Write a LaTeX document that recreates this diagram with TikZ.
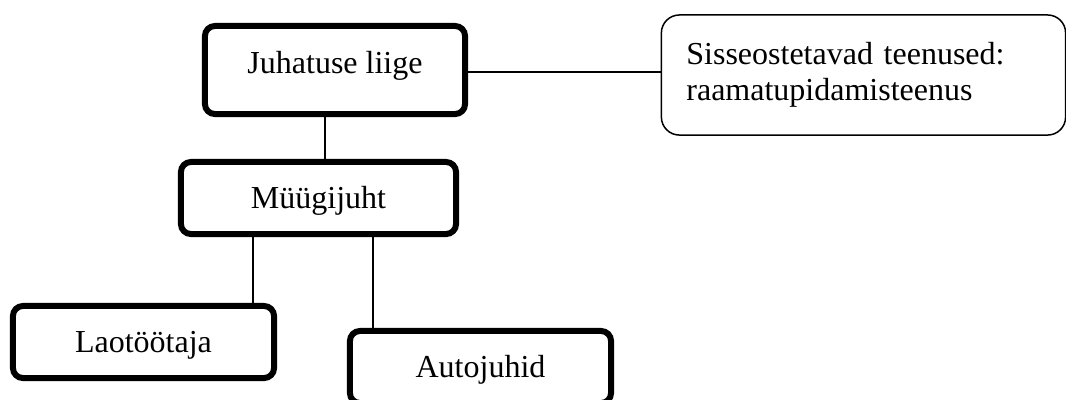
\documentclass[tikz,border=0pt]{standalone}
\usepackage{fontspec}
\setmainfont{Liberation Serif}
\usetikzlibrary{positioning}

\tikzset{
  ametikast/.style={draw, line width=0.06cm, rounded corners=0.1cm,
    minimum height=0.72cm, text height=0.22cm, text depth=0.02cm,
    inner sep=0pt},
  teenuskast/.style={draw, line width=0.015cm, rounded corners=0.18cm,
    minimum height=1.2cm, text width=3.54cm, align=left,
    inner xsep=0.25cm, inner ysep=0pt},
  liin/.style={line width=0.02cm}
}

\begin{document}
\begin{tikzpicture}[x=0.01cm, y=-0.01cm,
    font=\fontsize{9.1pt}{10.24pt}\selectfont]
  \useasboundingbox (0,0) rectangle (1066,399);

  % Juhatus ja teenused
  \node[ametikast, minimum width=2.6cm, minimum height=0.88cm,
        text depth=0.16cm] (juhatus) at (335,70) {Juhatuse liige};
  \node[teenuskast] (teenus) at (863.5,75)
       {Sisseostetavad teenused:\\raamatupidamisteenus};

  % Müügijuht
  \node[ametikast, minimum width=2.75cm] (myygi) at (318.5,198) {Müügijuht};

  % Alluvad
  \node[ametikast, minimum width=2.61cm] (lao) at (143.5,342) {Laotöötaja};
  \node[ametikast, minimum width=2.61cm] (auto) at (480.5,367) {Autojuhid};

  % Ühendused
  \draw[liin] ([yshift=-0.02cm]juhatus.east) -- ([yshift=-0.02cm]juhatus.east -| teenus.west);
  \draw[liin] ([xshift=-0.1cm]juhatus.south) -- ([xshift=-0.1cm]juhatus.south |- myygi.north);
  \draw[liin] ([xshift=1.095cm]lao.north) -- ([xshift=1.095cm]lao.north |- myygi.south);
  \draw[liin] ([xshift=-1.075cm]auto.north) -- ([xshift=-1.075cm]auto.north |- myygi.south);
\end{tikzpicture}
\end{document}
